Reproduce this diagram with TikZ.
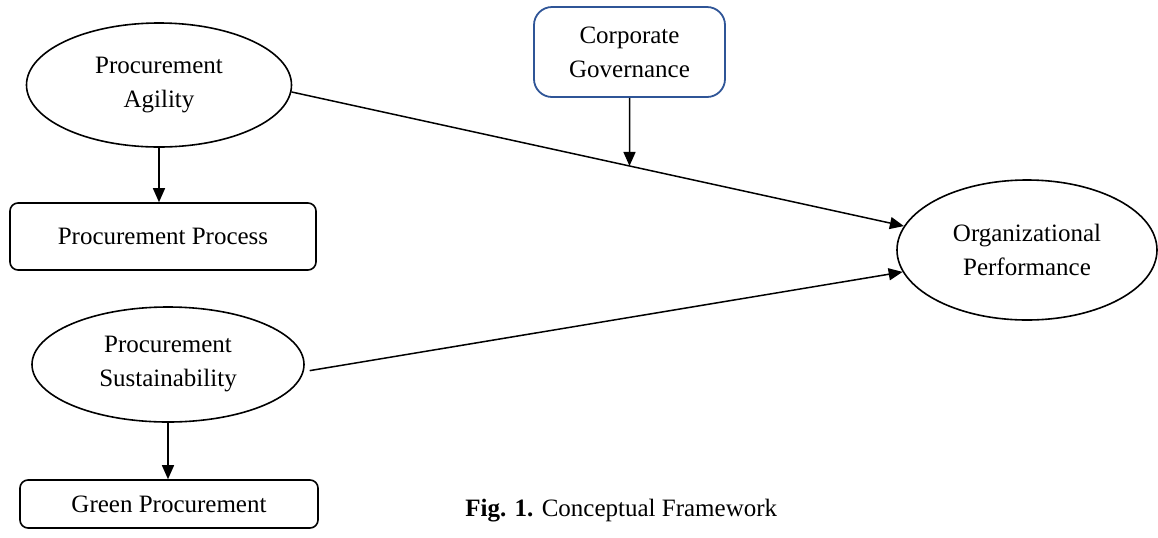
\documentclass[tikz,border=0pt]{standalone}
\usepackage{fontspec}
\setmainfont{Liberation Serif}
\usetikzlibrary{shapes.geometric,arrows.meta,intersections}
\definecolor{cgblue}{RGB}{47,85,151}
\begin{document}
\begin{tikzpicture}[x=0.5pt,y=-0.5pt,
  every node/.style={font=\fontsize{12.5}{17}\selectfont, align=center, inner sep=0pt},
  oval/.style={draw, ellipse, line width=0.8pt},
  rbox/.style={draw, rounded corners=4pt, line width=0.8pt},
  conn/.style={line width=0.75pt, -{Triangle[length=7pt,width=6pt]}}
]
\useasboundingbox (0,0) rectangle (1158,537);
\node[oval, minimum width=132.5pt, minimum height=62pt] (agility) at (159,85) {Procurement\\Agility};
\node[rbox, minimum width=153pt, minimum height=33.5pt] (process) at (163,236.5) {Procurement Process};
\node[oval, minimum width=136pt, minimum height=57.5pt] (sust) at (168,364.5) {Procurement\\Sustainability};
\node[rbox, minimum width=149pt, minimum height=24pt] (green) at (169,504) {Green Procurement};
\node[draw=cgblue, line width=0.9pt, rounded corners=9pt, minimum width=95.5pt, minimum height=45pt] (cg) at (629.5,52) {Corporate\\Governance};
\node[oval, minimum width=130pt, minimum height=70pt] (org) at (1027,250) {Organizational\\Performance};
\node[anchor=base west] (cap) at (465,516) {\textbf{Fig. 1.} Conceptual Framework};

\draw[conn] (agility.south) -- (agility.south |- process.north);
\draw[conn] (sust.south) -- (sust.south |- green.north);
\draw[conn, name path=agline] (agility.-3) -- (org.169);
\draw[conn, shorten <=3pt] (sust.-3) -- (org.190);
\path[name path=cgdrop] (cg.south) -- ++(0,200);
\path[name intersections={of=agline and cgdrop, by=m}];
\draw[conn] (cg.south) -- (m);
\end{tikzpicture}
\end{document}
